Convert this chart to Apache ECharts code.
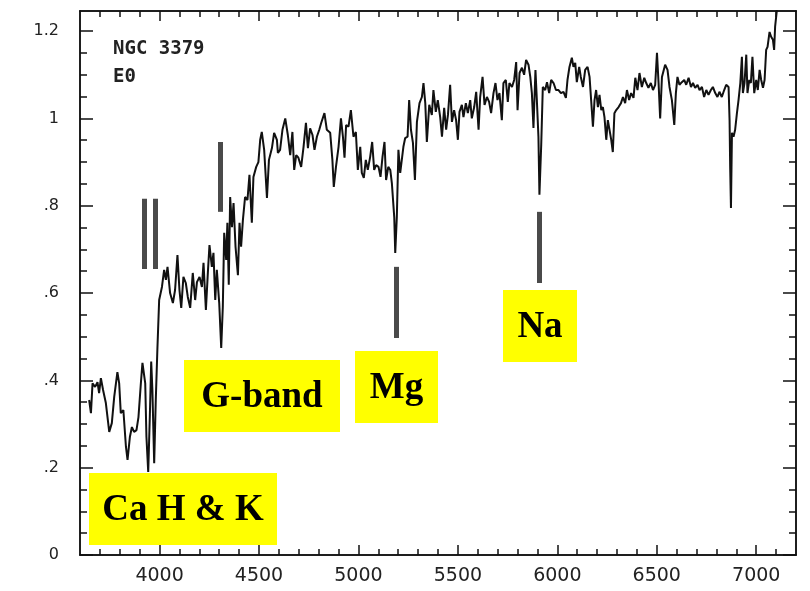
<!DOCTYPE html>
<html lang="en">
<head>
<meta charset="UTF-8" />
<title>NGC 3379 spectrum</title>
<script src="https://cdn.jsdelivr.net/npm/echarts@6/dist/echarts.min.js"></script>
<style>
  html, body { margin: 0; padding: 0; background: #fff; }
  #chart { width: 810px; height: 591px; }
</style>
</head>
<body>
<div id="chart"></div>
<script>
// wavelength (A), relative flux
const spectrum = [
  [3646,0.355],[3655,0.325],[3663,0.393],[3676,0.385],[3688,0.396],[3696,0.371],[3705,0.405],[3716,0.378],
  [3730,0.348],[3747,0.282],[3760,0.302],[3772,0.362],[3788,0.419],[3797,0.393],[3805,0.325],[3818,0.332],
  [3831,0.248],[3839,0.218],[3851,0.271],[3861,0.293],[3872,0.282],[3884,0.286],[3894,0.316],[3906,0.393],
  [3914,0.44],[3923,0.443],[3928,0.393],[3934,0.271],[3943,0.19],[3951,0.316],[3958,0.443],[3964,0.378],
  [3973,0.21],[3981,0.355],[3989,0.47],[3998,0.584],[4012,0.614],[4023,0.653],[4032,0.63],[4040,0.66],
  [4053,0.6],[4067,0.577],[4078,0.607],[4090,0.687],[4100,0.607],[4109,0.566],[4120,0.637],[4132,0.623],
  [4142,0.591],[4154,0.566],[4167,0.646],[4179,0.584],[4188,0.625],[4201,0.637],[4213,0.614],[4221,0.669],
  [4233,0.561],[4243,0.648],[4251,0.71],[4263,0.66],[4271,0.692],[4280,0.584],[4288,0.653],[4300,0.577],
  [4310,0.474],[4318,0.568],[4325,0.738],[4335,0.676],[4341,0.761],[4348,0.619],[4355,0.82],[4364,0.751],
  [4372,0.806],[4382,0.706],[4394,0.641],[4402,0.761],[4410,0.706],[4419,0.767],[4430,0.82],[4442,0.813],
  [4452,0.871],[4464,0.761],[4472,0.866],[4486,0.889],[4497,0.9],[4506,0.951],[4514,0.969],[4526,0.928],
  [4540,0.818],[4550,0.905],[4565,0.932],[4576,0.967],[4590,0.951],[4595,0.921],[4606,0.928],[4618,0.974],
  [4632,1.0],[4645,0.962],[4657,0.916],[4668,0.969],[4677,0.882],[4687,0.916],[4698,0.91],[4712,0.889],
  [4724,0.935],[4736,0.99],[4746,0.932],[4757,0.977],[4769,0.962],[4779,0.928],[4791,0.958],[4803,0.974],
  [4813,0.99],[4829,1.012],[4841,0.974],[4858,0.967],[4869,0.905],[4876,0.843],[4887,0.889],[4900,0.935],
  [4912,1.0],[4922,0.958],[4930,0.91],[4938,0.985],[4950,0.981],[4962,1.019],[4975,0.958],[4987,0.969],
  [4997,0.882],[5009,0.935],[5017,0.875],[5027,0.864],[5037,0.905],[5047,0.882],[5059,0.912],[5069,0.946],
  [5079,0.882],[5089,0.893],[5101,0.889],[5111,0.866],[5121,0.912],[5131,0.946],[5139,0.859],[5150,0.889],
  [5160,0.882],[5168,0.852],[5180,0.774],[5185,0.692],[5193,0.774],[5201,0.928],[5210,0.875],[5218,0.877],
  [5226,0.935],[5235,0.955],[5247,0.958],[5255,1.042],[5264,0.974],[5274,0.944],[5284,0.859],[5294,0.992],
  [5307,1.035],[5319,1.049],[5327,1.081],[5336,1.035],[5344,0.946],[5356,1.031],[5369,1.008],[5377,1.065],
  [5389,1.015],[5399,1.042],[5411,1.003],[5420,0.958],[5431,1.024],[5441,0.974],[5450,1.008],[5461,1.077],
  [5470,0.992],[5481,1.019],[5491,0.996],[5500,0.951],[5508,1.015],[5520,1.031],[5528,1.003],[5540,1.035],
  [5550,1.012],[5562,1.042],[5570,1.0],[5582,1.026],[5592,1.061],[5604,0.974],[5612,1.049],[5624,1.095],
  [5634,1.031],[5646,1.049],[5657,1.038],[5667,1.012],[5679,1.058],[5689,1.081],[5699,1.042],[5709,1.058],
  [5721,0.996],[5729,1.081],[5741,1.088],[5751,1.038],[5759,1.081],[5772,1.072],[5783,1.088],[5793,1.129],
  [5800,1.019],[5810,1.104],[5822,1.116],[5833,1.1],[5843,1.134],[5855,1.123],[5864,1.095],[5872,1.058],
  [5880,0.978],[5890,1.111],[5897,1.042],[5905,0.958],[5910,0.825],[5919,0.94],[5927,1.072],[5939,1.065],
  [5948,1.083],[5959,1.058],[5969,1.088],[5981,1.081],[5993,1.065],[6006,1.065],[6018,1.058],[6031,1.061],
  [6043,1.047],[6051,1.088],[6061,1.118],[6073,1.139],[6081,1.118],[6090,1.127],[6098,1.083],[6110,1.118],
  [6118,1.095],[6129,1.072],[6140,1.111],[6152,1.118],[6162,1.095],[6170,1.042],[6179,0.981],[6187,1.042],
  [6195,1.065],[6204,1.026],[6212,1.054],[6221,1.019],[6229,1.026],[6237,1.003],[6246,0.951],[6254,0.996],
  [6262,0.992],[6271,0.951],[6279,0.923],[6287,1.012],[6296,1.019],[6308,1.026],[6320,1.035],[6330,1.049],
  [6341,1.035],[6350,1.065],[6361,1.042],[6371,1.058],[6383,1.047],[6392,1.093],[6403,1.065],[6413,1.104],
  [6425,1.072],[6437,1.093],[6447,1.081],[6458,1.07],[6470,1.081],[6481,1.065],[6492,1.077],[6501,1.15],
  [6509,1.081],[6517,1.0],[6526,1.095],[6542,1.123],[6554,1.111],[6564,1.072],[6576,1.042],[6588,0.985],
  [6596,1.058],[6604,1.095],[6614,1.077],[6626,1.083],[6638,1.088],[6648,1.077],[6660,1.093],[6672,1.072],
  [6682,1.081],[6693,1.07],[6705,1.077],[6715,1.065],[6727,1.072],[6738,1.049],[6749,1.065],[6760,1.054],
  [6772,1.065],[6782,1.072],[6794,1.058],[6805,1.049],[6815,1.061],[6827,1.049],[6839,1.065],[6849,1.077],
  [6861,1.072],[6866,0.996],[6869,0.889],[6873,0.795],[6878,0.967],[6886,0.958],[6894,0.974],[6903,1.012],
  [6911,1.042],[6920,1.081],[6928,1.141],[6933,1.058],[6941,1.081],[6950,1.146],[6956,1.058],[6965,1.088],
  [6973,1.081],[6981,1.141],[6990,1.058],[7000,1.088],[7008,1.065],[7017,1.111],[7025,1.088],[7034,1.07],
  [7042,1.088],[7050,1.157],[7057,1.164],[7067,1.198],[7075,1.187],[7084,1.18],[7090,1.157],[7095,1.21],
  [7104,1.249],[7115,1.3]
];

// feature markers: [wavelength, top flux, bottom flux]
const markers = [
  [3925, 0.816, 0.655],
  [3978, 0.816, 0.655],
  [4305, 0.946, 0.786],
  [5190, 0.660, 0.497],
  [5907, 0.786, 0.623]
];

const xTicks = [4000, 4500, 5000, 5500, 6000, 6500, 7000];
const yTicks = [0, 0.2, 0.4, 0.6, 0.8, 1, 1.2];
const yTickLabels = ['0', '.2', '.4', '.6', '.8', '1', '1.2'];
const xMinorTicks = [];
for (let v = 3700; v <= 7100; v += 100) xMinorTicks.push(v);
const yMinorTicks = [];
for (let i = 1; i <= 24; i++) yMinorTicks.push(+(i * 0.05).toFixed(2));

// label boxes: text, left, top, width, height (px)
const labels = [
  ['Ca H & K', 89, 473, 188, 72],
  ['G-band', 184, 360, 156, 72],
  ['Mg', 355, 351, 83, 72],
  ['Na', 503, 290, 74, 72]
];

const XMIN = 3600, XMAX = 7200, YMIN = 0, YMAX = 1.246;
const ink = '#111';

const chart = echarts.init(document.getElementById('chart'));

function xAxis(pos, ticks, len, withLabels) {
  return {
    type: 'value', min: XMIN, max: XMAX, position: pos,
    axisLine: { show: true, onZero: false, lineStyle: { color: ink, width: 1.5 } },
    axisTick: { show: true, inside: true, length: len, customValues: ticks, lineStyle: { color: ink, width: 1.5 } },
    axisLabel: {
      show: withLabels, customValues: xTicks, margin: 12,
      color: '#222', fontSize: 19, fontFamily: 'DejaVu Sans',
      formatter: v => String(v)
    },
    splitLine: { show: false }
  };
}
function yAxis(pos, ticks, len, withLabels) {
  return {
    type: 'value', min: YMIN, max: YMAX, position: pos,
    axisLine: { show: true, onZero: false, lineStyle: { color: ink, width: 1.5 } },
    axisTick: { show: true, inside: true, length: len, customValues: ticks, lineStyle: { color: ink, width: 1.5 } },
    axisLabel: {
      show: withLabels, customValues: yTicks, margin: 21,
      color: '#222', fontSize: 16, fontFamily: 'DejaVu Sans',
      formatter: v => {
        const i = yTicks.findIndex(t => Math.abs(t - v) < 1e-6);
        return i >= 0 ? yTickLabels[i] : '';
      }
    },
    splitLine: { show: false }
  };
}

const graphics = [];
labels.forEach(([txt, l, t, w, h]) => {
  graphics.push({
    type: 'rect', left: l, top: t, z: 10,
    shape: { width: w, height: h },
    style: { fill: '#ffff00' }
  });
  graphics.push({
    type: 'text', x: l + w / 2, y: t + h / 2 + 1, z: 11,
    style: {
      text: txt, fill: '#000', align: 'center', verticalAlign: 'middle',
      font: 'bold 37px "Liberation Serif", serif'
    }
  });
});
graphics.push({
  type: 'text', left: 113, top: 35, z: 11,
  style: {
    text: 'NGC 3379\nE0', fill: '#222', lineHeight: 28,
    font: 'bold 19px "DejaVu Sans Mono", monospace'
  }
});

const option = {
  animation: false,
  backgroundColor: '#fff',
  grid: { left: 80, right: 14, top: 11, bottom: 36 },
  xAxis: [
    xAxis('bottom', xTicks, 10, true),
    xAxis('bottom', xMinorTicks, 6, false),
    xAxis('top', xTicks, 10, false),
    xAxis('top', xMinorTicks, 6, false)
  ],
  yAxis: [
    yAxis('left', yTicks, 13, true),
    yAxis('left', yMinorTicks, 7, false),
    yAxis('right', yTicks, 13, false),
    yAxis('right', yMinorTicks, 7, false)
  ],
  graphic: graphics,
  series: [
    {
      type: 'line',
      xAxisIndex: 0, yAxisIndex: 0,
      data: spectrum,
      showSymbol: false,
      clip: true,
      lineStyle: { color: ink, width: 2 },
      markLine: {
        silent: true,
        symbol: ['none', 'none'],
        label: { show: false },
        lineStyle: { color: '#4a4a4a', width: 5, type: 'solid' },
        data: markers.map(m => [{ coord: [m[0], m[1]] }, { coord: [m[0], m[2]] }])
      }
    }
  ]
};
chart.setOption(option);
</script>
</body>
</html>
